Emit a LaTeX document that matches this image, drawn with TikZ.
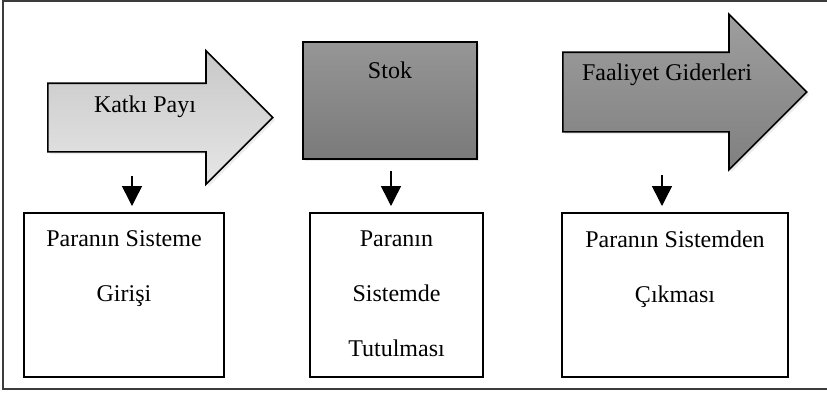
\documentclass[tikz,border=0pt]{standalone}
\usepackage{fontspec}
\setmainfont{Liberation Serif}
\usetikzlibrary{positioning,shapes.arrows,arrows.meta,shadows}
\definecolor{FrameGray}{RGB}{60,60,60}
\definecolor{LightTop}{RGB}{200,200,200}
\definecolor{LightBottom}{RGB}{230,230,230}
\definecolor{StockTop}{RGB}{150,150,150}
\definecolor{StockBottom}{RGB}{122,122,122}
\definecolor{CostTop}{RGB}{158,158,158}
\definecolor{CostBottom}{RGB}{128,128,128}

\begin{document}
\begin{tikzpicture}[
        x=0.5pt, y=-0.5pt,
        flowarrow/.style={
            single arrow,
            single arrow tip angle=90,
            draw=black,
            line width=0.8pt,
            inner xsep=0pt,
            anchor=tail,
            drop shadow={opacity=0.15, shadow xshift=1.2pt, shadow yshift=-1.2pt}
        },
        stockbox/.style={
            draw=black,
            line width=0.8pt,
            top color=StockTop,
            bottom color=StockBottom,
            minimum width=87pt,
            minimum height=58.5pt,
            drop shadow={opacity=0.15, shadow xshift=1.2pt, shadow yshift=-1.2pt}
        },
        stepbox/.style={
            draw=black,
            line width=1pt,
            fill=white,
            minimum height=82pt
        },
        flowtext/.style={
            inner sep=0pt,
            font=\fontsize{12}{14}\selectfont
        },
        boxtext/.style={
            inner sep=0pt,
            anchor=north,
            align=center,
            font=\fontsize{12}{27.5}\selectfont
        },
        down/.style={
            -{Triangle[width=10pt,length=10pt]},
            line width=0.75pt,
            shorten >=3pt
        }
    ]
    \useasboundingbox (0,0) rectangle (827,393);
    \draw[FrameGray, line width=1pt] (3,1) rectangle (840,389);

    % upper row
    \node[flowarrow, minimum height=112.5pt, inner ysep=16.75pt,
          single arrow head extend=16.25pt,
          top color=LightTop, bottom color=LightBottom] (katki) at (47,117.5) {};
    \node[flowtext, anchor=base] (katkitext) at (145,112) {Katkı Payı};

    \node[stockbox] (stok) at (390,100.5) {};
    \node[flowtext, anchor=base] (stoktext) at (390,78) {Stok};

    \node[flowarrow, minimum height=122pt, inner ysep=19.5pt,
          single arrow head extend=19pt,
          top color=CostTop, bottom color=CostBottom] (gider) at (562,92) {};
    \node[flowtext, anchor=base] (gidertext) at (667,80) {Faaliyet Giderleri};

    % lower row
    \node[stepbox, minimum width=100pt] (giris) at (124,295) {};
    \node[boxtext] at (124,230) {Paranın Sisteme\\Girişi};

    \node[stepbox, minimum width=86.5pt] (tutma) at (396.5,295) {};
    \node[boxtext] at (396.5,230) {Paranın\\Sistemde\\Tutulması};

    \node[stepbox, minimum width=113pt] (cikis) at (675,295) {};
    \node[boxtext] at (675,230) {Paranın Sistemden\\Çıkması};

    % arrows down
    \coordinate (d1) at (132,176);
    \coordinate (d2) at (391,171);
    \coordinate (d3) at (662,175);
    \draw[down] (d1) -- (d1 |- giris.north);
    \draw[down] (d2) -- (d2 |- tutma.north);
    \draw[down] (d3) -- (d3 |- cikis.north);
\end{tikzpicture}
\end{document}
